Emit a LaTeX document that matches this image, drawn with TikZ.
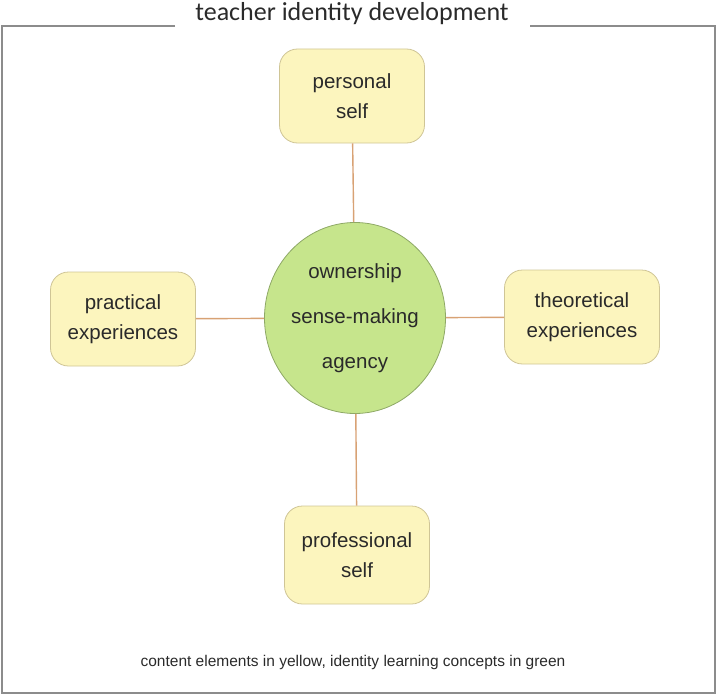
\documentclass[tikz,border=0pt]{standalone}
\usepackage{fontspec}
\setmainfont{Liberation Sans}
\newfontfamily\titlefont{Carlito}
\usetikzlibrary{positioning, shapes}
\definecolor{boxfill}{HTML}{FCF5BE}
\definecolor{boxline}{HTML}{CFC596}
\definecolor{coreFill}{HTML}{C6E58C}
\definecolor{coreLine}{HTML}{8EA866}
\definecolor{linkcol}{HTML}{D8A274}
\definecolor{framecol}{HTML}{8C8C8C}
\definecolor{textcol}{HTML}{2A2A2A}
\tikzset{
    %Define style for content boxes
    content/.style={
           rectangle,
           rounded corners=18pt,
           draw=boxline, thick,
           fill=boxfill,
           text=textcol,
           minimum width=145pt,
           minimum height=94pt,
           align=center,
           font=\fontsize{20.5}{30}\selectfont},
 %
    core/.style={
           ellipse,
           draw=coreLine, thick,
           fill=coreFill,
           text=textcol,
           inner sep=0pt,
           minimum width=181pt,
           minimum height=191pt,
           align=center,
           font=\fontsize{20.5}{45}\selectfont},
 %
    % Define connector style
    link/.style={
           draw=linkcol,
           line width=1.4pt}
}
\begin{document}
\begin{tikzpicture}[x=1pt, y=-1pt]
  \useasboundingbox (0,0) rectangle (717,698);
  % frame with title gap
  \draw[framecol, line width=1.5pt] (175,26) -- (2,26) -- (2,693) -- (715,693) -- (715,26) -- (530,26);
  \node[text=textcol, font=\titlefont\fontsize{26}{30}\selectfont] (title) at (352,14) {teacher identity development};

  \node[core] (centre) at (355,318) {ownership\\ sense-making\\ agency};

  \node[content] (personal) at (352,96) {personal\\ self};
  \node[content] (practical) at (123,319) {practical\\ experiences};
  \node[content, minimum width=155pt] (theory) at (582,317) {theoretical\\ experiences};
  \node[content, minimum height=98pt] (professional) at (357,555) {professional\\ self};

  \path[link]
    (personal) -- (centre)
    (practical) -- (centre)
    (centre) -- (theory)
    (centre) -- (professional);

  \node[text=textcol, font=\fontsize{15.5}{18}\selectfont] (legend) at (353,662) {content elements in yellow, identity learning concepts in green};
\end{tikzpicture}
\end{document}
